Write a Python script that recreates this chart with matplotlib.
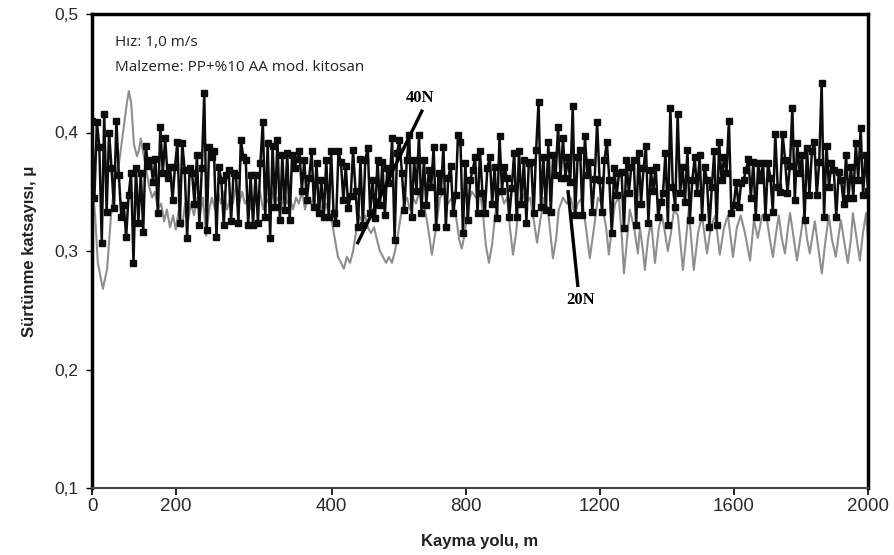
import numpy as np
import matplotlib
matplotlib.use("Agg")
import matplotlib.pyplot as plt

# 40N - siyah seri (esit aralikli olcum)
black_y = [
    0.41, 0.345, 0.409, 0.388, 0.307, 0.416, 0.333, 0.40, 0.37, 0.336, 0.41, 0.364, 0.329, 0.339,
    0.312, 0.347, 0.366, 0.29, 0.37, 0.324, 0.366, 0.316, 0.389, 0.372, 0.377, 0.358, 0.378, 0.332,
    0.405, 0.366, 0.395, 0.362, 0.371, 0.343, 0.371, 0.392, 0.324, 0.391, 0.368, 0.311, 0.37,
    0.366, 0.34, 0.381, 0.322, 0.37, 0.433, 0.318, 0.388, 0.379, 0.384, 0.312, 0.371, 0.36, 0.322,
    0.364, 0.368, 0.325, 0.366, 0.364, 0.324, 0.394, 0.379, 0.377, 0.322, 0.364, 0.322, 0.364, 0.324,
    0.374, 0.409, 0.329, 0.391, 0.311, 0.389, 0.337, 0.394, 0.326, 0.381, 0.335, 0.383, 0.326, 0.381,
    0.37, 0.378,
    0.384, 0.351, 0.377, 0.343, 0.362, 0.384, 0.337, 0.374, 0.332, 0.36, 0.329, 0.377, 0.329, 0.384,
    0.332, 0.324, 0.384, 0.375, 0.343, 0.372, 0.336, 0.346, 0.385, 0.351, 0.32, 0.378, 0.322, 0.377,
    0.387, 0.332, 0.36, 0.328, 0.377, 0.339, 0.375, 0.33, 0.37, 0.357, 0.395, 0.309, 0.383, 0.394,
    0.366, 0.335, 0.377,
    0.398, 0.329, 0.377, 0.351, 0.398, 0.332, 0.377, 0.339, 0.368, 0.354, 0.388, 0.32, 0.366, 0.351,
    0.388, 0.32, 0.362, 0.372, 0.332, 0.347, 0.398, 0.392, 0.315, 0.374, 0.326, 0.36, 0.368, 0.379,
    0.332, 0.384, 0.349, 0.332, 0.37, 0.379, 0.34, 0.371, 0.328, 0.397, 0.351, 0.371, 0.362, 0.329,
    0.353, 0.383, 0.329, 0.384, 0.34,
    0.377, 0.324, 0.374, 0.375, 0.332, 0.385, 0.426, 0.337, 0.379, 0.335, 0.392, 0.333, 0.381, 0.364,
    0.405, 0.362, 0.395, 0.362, 0.379, 0.358, 0.422, 0.33, 0.379, 0.385, 0.33, 0.397, 0.364, 0.375,
    0.333, 0.361, 0.409, 0.36, 0.333, 0.377, 0.392, 0.36, 0.315, 0.37, 0.347, 0.366, 0.367, 0.319,
    0.377, 0.349, 0.371,
    0.377, 0.322, 0.383, 0.34, 0.37, 0.389, 0.324, 0.368, 0.351, 0.371, 0.329, 0.341, 0.349, 0.383,
    0.322, 0.421, 0.354, 0.337, 0.416, 0.349, 0.371, 0.341, 0.385, 0.326, 0.36, 0.379, 0.349, 0.381,
    0.329, 0.371, 0.36, 0.32, 0.354, 0.384, 0.322, 0.392, 0.36, 0.379, 0.366, 0.41, 0.332, 0.339,
    0.358, 0.337, 0.357, 0.36, 0.368,
    0.378, 0.345, 0.375, 0.329, 0.374, 0.36, 0.374, 0.329, 0.374, 0.362, 0.333, 0.399, 0.354, 0.35,
    0.399, 0.377, 0.349, 0.372, 0.421, 0.343, 0.391, 0.366, 0.381, 0.326, 0.387, 0.347, 0.384, 0.392,
    0.347, 0.375, 0.442, 0.329, 0.389, 0.354, 0.374, 0.368, 0.329, 0.367, 0.36, 0.34, 0.381, 0.345,
    0.371, 0.345, 0.391, 0.36, 0.404, 0.347, 0.381, 0.351,
]
black_x = np.linspace(0, 2000, len(black_y))

# 20N - gri seri
gray_x = [
    0, 8, 15, 28, 39, 49, 59, 70, 80, 90, 95, 101, 108, 116, 121, 126, 131, 139, 147, 155,
    162, 170, 178, 186, 193, 201, 209, 216, 224, 232, 240, 247, 255, 263, 271, 278, 286, 294, 302, 309,
    317, 325, 332, 340, 348, 356, 363, 371, 379, 387, 394, 402, 410, 417, 425, 433, 441, 448, 456, 464,
    472, 479, 487, 495, 503, 510, 518, 526, 533, 541, 549, 557, 564, 572, 580, 588, 595, 603, 611, 618,
    626, 634, 642, 649, 657, 665, 673, 680, 688, 696, 704, 711, 719, 727, 734, 742, 750, 758, 765, 773,
    781, 789, 796, 804, 812, 819, 827, 835, 843, 850, 858, 866, 876, 887, 897, 907, 917, 928, 938, 946,
    953, 961, 969, 979, 990, 1000, 1008, 1015, 1023, 1031, 1039, 1046, 1054, 1062, 1070, 1077, 1085, 1093, 1100, 1108,
    1118, 1129, 1139, 1147, 1155, 1165, 1175, 1183, 1188, 1196, 1203, 1214, 1224, 1234, 1245, 1252, 1263, 1273, 1283, 1294,
    1304, 1314, 1325, 1332, 1340, 1348, 1358, 1366, 1371, 1379, 1386, 1397, 1407, 1412, 1420, 1425, 1433, 1441, 1451, 1461,
    1469, 1477, 1484, 1492, 1500, 1510, 1523, 1531, 1538, 1551, 1562, 1572, 1585, 1595, 1606, 1618, 1629, 1639, 1652, 1662,
    1672, 1683, 1696, 1706, 1716, 1727, 1737, 1747, 1755, 1763, 1770, 1778, 1786, 1794, 1799, 1809, 1817, 1825, 1835, 1843,
    1850, 1858, 1863, 1873, 1881, 1889, 1899, 1907, 1917, 1925, 1930, 1940, 1948, 1956, 1961, 1971, 1979, 1987, 1995, 2000,
]
gray_y = [
    0.36, 0.33, 0.29, 0.268, 0.285, 0.33, 0.36, 0.375, 0.40, 0.425, 0.435, 0.425, 0.39, 0.38, 0.385, 0.395, 0.385, 0.37, 0.355, 0.345,
    0.35, 0.335, 0.34, 0.325, 0.335, 0.32, 0.33, 0.318, 0.335, 0.32, 0.34, 0.325, 0.34, 0.33, 0.345, 0.33, 0.345, 0.313, 0.335, 0.345,
    0.335, 0.35, 0.34, 0.35, 0.335, 0.345, 0.34, 0.355, 0.34, 0.35, 0.34, 0.345, 0.335, 0.345, 0.34, 0.35, 0.335, 0.345, 0.34, 0.35,
    0.34, 0.345, 0.335, 0.35, 0.34, 0.345, 0.335, 0.345, 0.34, 0.35, 0.335, 0.345, 0.34, 0.345, 0.335, 0.34, 0.33, 0.34, 0.33, 0.325,
    0.31, 0.295, 0.29, 0.285, 0.295, 0.29, 0.30, 0.315, 0.33, 0.325, 0.33, 0.32, 0.315, 0.32, 0.31, 0.30, 0.295, 0.29, 0.295, 0.29,
    0.30, 0.315, 0.33, 0.34, 0.345, 0.335, 0.345, 0.34, 0.35, 0.34, 0.335, 0.32, 0.297, 0.32, 0.345, 0.35, 0.34, 0.345, 0.33, 0.31,
    0.302, 0.315, 0.34, 0.35, 0.345, 0.35, 0.33, 0.305, 0.29, 0.305, 0.33, 0.345, 0.35, 0.34, 0.345, 0.32, 0.297, 0.315, 0.34, 0.35,
    0.34, 0.345, 0.325, 0.307, 0.325, 0.345, 0.335, 0.31, 0.294, 0.31, 0.335, 0.345, 0.34, 0.345, 0.33, 0.34, 0.345, 0.32, 0.294, 0.32,
    0.345, 0.34, 0.32, 0.297, 0.32, 0.34, 0.345, 0.31, 0.281, 0.31, 0.335, 0.32, 0.298, 0.32, 0.30, 0.284, 0.31, 0.325, 0.29, 0.32,
    0.33, 0.315, 0.30, 0.315, 0.335, 0.33, 0.284, 0.31, 0.335, 0.284, 0.315, 0.33, 0.298, 0.32, 0.33, 0.297, 0.32, 0.33, 0.295, 0.32,
    0.33, 0.315, 0.292, 0.326, 0.311, 0.33, 0.332, 0.31, 0.295, 0.315, 0.33, 0.31, 0.298, 0.32, 0.332, 0.31, 0.292, 0.31, 0.332, 0.31,
    0.298, 0.315, 0.325, 0.30, 0.281, 0.305, 0.33, 0.31, 0.295, 0.315, 0.326, 0.305, 0.29, 0.31, 0.332, 0.31, 0.292, 0.315, 0.332, 0.31,
]

xtick_labels = ['0', '200', '400', '800', '1200', '1600', '2000']
xtick_pos = [0, 216, 618, 964, 1309, 1654, 2000]
ytick_vals = [0.1, 0.2, 0.3, 0.4, 0.5]
ytick_labels = ['0,1', '0,2', '0,3', '0,4', '0,5']


def main():
    fig = plt.figure(figsize=(8.94, 5.55), dpi=100)
    ax = fig.add_axes([92 / 894, 1 - 488 / 555, 776 / 894, 474 / 555])

    ax.plot(gray_x, gray_y, color='#8e8e8e', lw=1.5, zorder=2)
    ax.plot(black_x, black_y, color='#0d0d0d', lw=1.8, marker='s', markersize=4, zorder=3)

    ax.set_xlim(0, 2000)
    ax.set_ylim(0.1, 0.5)
    ax.set_xticks(xtick_pos)
    ax.set_xticklabels(xtick_labels, fontsize=13.5, family='Liberation Sans', color='#2a2a2a')
    ax.set_yticks(ytick_vals)
    ax.set_yticklabels(ytick_labels, fontsize=12.5, family='Liberation Sans', color='#2a2a2a')
    ax.tick_params(axis='x', direction='out', length=5, width=1.2, pad=2)
    ax.tick_params(axis='y', direction='out', length=4, width=1.0, pad=6)

    for side in ['left', 'top', 'right']:
        ax.spines[side].set_linewidth(2.5)
    ax.spines['bottom'].set_linewidth(1.5)
    ax.spines['bottom'].set_color('#444444')

    ax.set_ylabel('Sürtünme katsayısı, μ', fontsize=12, fontweight='bold',
                  family='Liberation Sans', color='#222222', labelpad=12)
    ax.set_xlabel('Kayma yolu, m', fontsize=12, fontweight='bold',
                  family='Liberation Sans', color='#222222', labelpad=14)

    ax.text(0.03, 0.94, 'Hız: 1,0 m/s', transform=ax.transAxes, fontsize=11,
            family='Open Sans', color='#222222', va='center')
    ax.text(0.03, 0.887, 'Malzeme: PP+%10 AA mod. kitosan', transform=ax.transAxes,
            fontsize=11, family='Open Sans', color='#222222', va='center')

    # etiketler
    ax.plot([685, 850], [0.307, 0.418], color='black', lw=2.4, zorder=4)
    ax.text(845, 0.429, '40N', fontsize=12, fontweight='bold', family='Liberation Serif',
            ha='center', va='center', zorder=5)
    ax.plot([1227, 1252], [0.350, 0.271], color='black', lw=2.4, zorder=4)
    ax.text(1258, 0.259, '20N', fontsize=12, fontweight='bold', family='Liberation Serif',
            ha='center', va='center', zorder=5)

    fig.savefig('out.png', dpi=100)


if __name__ == '__main__':
    main()
